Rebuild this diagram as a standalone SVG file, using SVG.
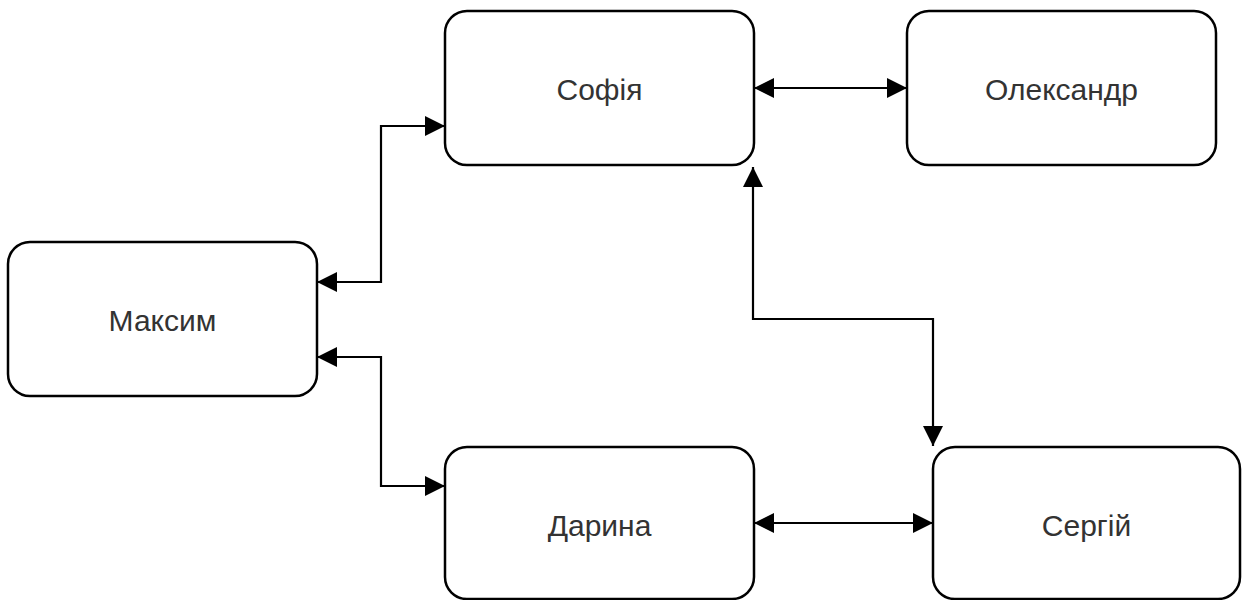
<svg xmlns="http://www.w3.org/2000/svg" width="1244" height="600" viewBox="0 0 1244 600">
  <style>
    .box { fill: #ffffff; stroke: #000000; stroke-width: 2.5; }
    .lbl { font-family: "Liberation Sans", Arial, sans-serif; font-size: 30px; fill: #333333; text-anchor: middle; dominant-baseline: central; }
    .edge { fill: none; stroke: #000000; stroke-width: 2.2; }
  </style>
  <defs>
    <marker id="arrow" viewBox="0 0 20 20" refX="20" refY="10" markerWidth="20" markerHeight="20" markerUnits="userSpaceOnUse" orient="auto-start-reverse">
      <path d="M0,0 L20,10 L0,20 Z" fill="#000000"/>
    </marker>
  </defs>
  <rect width="1244" height="600" fill="#ffffff"/>

  <g id="connectors">
    <path class="edge" d="M317,282 H381 V126 H445" marker-start="url(#arrow)" marker-end="url(#arrow)"/>
    <path class="edge" d="M317,357 H381 V486 H445" marker-start="url(#arrow)" marker-end="url(#arrow)"/>
    <path class="edge" d="M754,88 H907" marker-start="url(#arrow)" marker-end="url(#arrow)"/>
    <path class="edge" d="M753,167 V319 H933 V446" marker-start="url(#arrow)" marker-end="url(#arrow)"/>
    <path class="edge" d="M754,523 H933" marker-start="url(#arrow)" marker-end="url(#arrow)"/>
  </g>

  <g id="node-maksym">
    <rect class="box" x="8" y="242" width="309" height="154" rx="22" ry="22"/>
    <text class="lbl" x="162.5" y="320">Максим</text>
  </g>
  <g id="node-sofiia">
    <rect class="box" x="445" y="11" width="309" height="154" rx="22" ry="22"/>
    <text class="lbl" x="599.5" y="89">Софія</text>
  </g>
  <g id="node-oleksandr">
    <rect class="box" x="907" y="11" width="309" height="154" rx="22" ry="22"/>
    <text class="lbl" x="1061.5" y="89">Олександр</text>
  </g>
  <g id="node-daryna">
    <rect class="box" x="445" y="447" width="309" height="152" rx="22" ry="22"/>
    <text class="lbl" x="599.5" y="525">Дарина</text>
  </g>
  <g id="node-serhii">
    <rect class="box" x="933" y="447" width="307" height="152" rx="22" ry="22"/>
    <text class="lbl" x="1086.5" y="525">Сергій</text>
  </g>
</svg>
